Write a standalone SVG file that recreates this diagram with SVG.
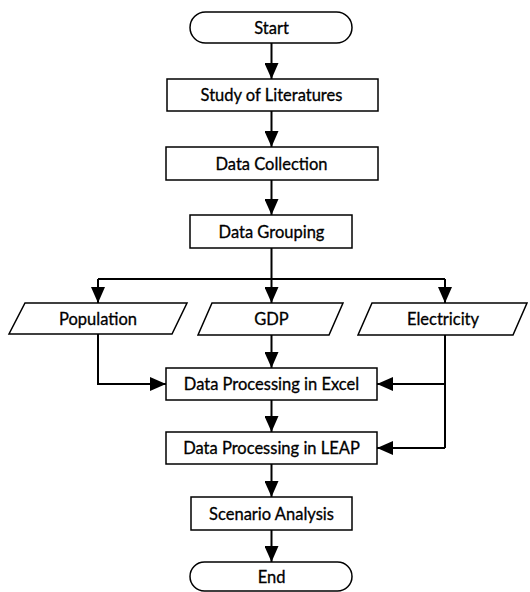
<svg xmlns="http://www.w3.org/2000/svg" width="530" height="592" viewBox="0 0 530 592">
<defs>
<marker id="ah" markerWidth="16" markerHeight="14" viewBox="0 0 16 14" refX="16" refY="7" orient="auto" markerUnits="userSpaceOnUse">
<path d="M0,0 L16,7 L0,14 Z" fill="#000"/>
</marker>
<style>
.box{fill:#fff;stroke:#000;stroke-width:1.5}
.t{font-family:Lato,"Open Sans",sans-serif;font-size:16.5px;fill:#000;stroke:#000;stroke-width:0.3;text-anchor:middle;dominant-baseline:central}
.c{fill:none;stroke:#000;stroke-width:2;marker-end:url(#ah)}
.l{fill:none;stroke:#000;stroke-width:2}
</style>
</defs>
<rect width="530" height="592" fill="#fff"/>
<g id="connectors">
<path class="c" d="M271.5,43 V79"/>
<path class="c" d="M271.5,111 V147"/>
<path class="c" d="M271.5,180 V215"/>
<path class="l" d="M271.5,248 V279"/>
<path class="l" d="M98,279 H445"/>
<path class="c" d="M98,279 V303"/>
<path class="c" d="M271.5,279 V303"/>
<path class="c" d="M445,279 V303"/>
<path class="c" d="M98,334 V384 H166"/>
<path class="c" d="M271.5,335 V368"/>
<path class="l" d="M445,335 V448"/>
<path class="c" d="M445,384 H377"/>
<path class="c" d="M445,448 H377"/>
<path class="c" d="M271.5,400 V432"/>
<path class="c" d="M271.5,464 V497"/>
<path class="c" d="M271.5,530 V562"/>
</g>
<g id="start"><rect class="box" x="190" y="12" width="162" height="31" rx="15.5"/><text class="t" x="271.5" y="27.5">Start</text></g>
<g id="study"><rect class="box" x="167" y="79" width="211" height="32"/><text class="t" x="271.5" y="95">Study of Literatures</text></g>
<g id="collection"><rect class="box" x="166" y="147" width="212" height="33"/><text class="t" x="271.5" y="163.5">Data Collection</text></g>
<g id="grouping"><rect class="box" x="190" y="215" width="162" height="33"/><text class="t" x="271.5" y="231.5">Data Grouping</text></g>
<g id="population"><polygon class="box" points="25,303 187,303 172,334 9,334"/><text class="t" x="98" y="318.5">Population</text></g>
<g id="gdp"><polygon class="box" points="212,303 343,303 329,335 198,335"/><text class="t" x="271.5" y="319">GDP</text></g>
<g id="electricity"><polygon class="box" points="372,303 527,303 513,335 358,335"/><text class="t" x="443" y="319">Electricity</text></g>
<g id="excel"><rect class="box" x="166" y="368" width="211" height="32"/><text class="t" x="271.5" y="384">Data Processing in Excel</text></g>
<g id="leap"><rect class="box" x="166" y="432" width="211" height="32"/><text class="t" x="271.5" y="448">Data Processing in LEAP</text></g>
<g id="scenario"><rect class="box" x="191" y="497" width="161" height="33"/><text class="t" x="271.5" y="513.5">Scenario Analysis</text></g>
<g id="end"><rect class="box" x="190" y="562" width="162" height="29" rx="14.5"/><text class="t" x="271.5" y="577">End</text></g>
</svg>
